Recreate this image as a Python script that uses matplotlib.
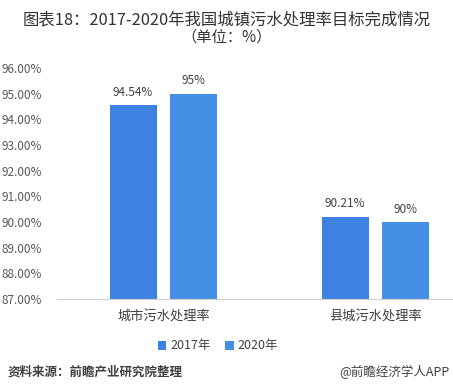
import matplotlib
matplotlib.use("Agg")
import matplotlib.pyplot as plt
import numpy as np

plt.rcParams['font.family'] = ['Noto Sans CJK SC', 'DejaVu Sans']

# data
categories = ["城市污水处理率", "县城污水处理率"]
series_names = ["2017年", "2020年"]
values_2017 = [94.54, 90.21]
values_2020 = [95.0, 90.0]
labels_2017 = ["94.54%", "90.21%"]
labels_2020 = ["95%", "90%"]
colors = ["#3d82e0", "#4590e6"]

fig = plt.figure(figsize=(4.53, 3.92), dpi=100)
ax = fig.add_axes([57 / 453, 1 - 299 / 392, (453 - 57) / 453, (299 - 68) / 392])

x = np.arange(len(categories))
w = 0.222
off = 0.143
b1 = ax.bar(x - off, values_2017, w, color=colors[0], label=series_names[0])
b2 = ax.bar(x + off, values_2020, w, color=colors[1], label=series_names[1])

ax.set_ylim(87, 96)
ax.set_xlim(-0.502, 1.366)
ax.set_yticks(np.arange(87, 96.01, 1))
ax.set_yticklabels([f"{v:.2f}%" for v in np.arange(87, 96.01, 1)])
ax.set_xticks(x)
ax.set_xticklabels(categories)

for bars, labs in [(b1, labels_2017), (b2, labels_2020)]:
    for r, t in zip(bars, labs):
        ax.text(r.get_x() + r.get_width() / 2, r.get_height() + 0.25, t,
                ha="center", va="bottom", fontsize=8.5, color="#404040")

for s in ["top", "right", "left"]:
    ax.spines[s].set_visible(False)
ax.spines["bottom"].set_color("#d0d0d0")
ax.tick_params(axis="y", length=0, labelsize=8.5, labelcolor="#595959", pad=11)
ax.tick_params(axis="x", length=0, labelsize=9.5, labelcolor="#404040", pad=8)

fig.text(0.5, 1 - 20 / 392, "图表18：2017-2020年我国城镇污水处理率目标完成情况",
         ha="center", va="center", fontsize=11.8, color="#333333")
fig.text(0.5, 1 - 37 / 392, "（单位：%）", ha="center", va="center",
         fontsize=11, color="#333333")

fig.legend(loc="center", bbox_to_anchor=(218 / 453, 1 - 346 / 392), ncol=2,
           frameon=False, fontsize=9, handlelength=0.7, handleheight=0.7,
           columnspacing=1.2, handletextpad=0.3, labelcolor="#404040")

fig.text(8 / 453, 1 - 372 / 392, "资料来源：前瞻产业研究院整理", ha="left", va="center",
         fontsize=9, color="#404040", style="italic", fontweight="bold")
fig.text(450 / 453, 1 - 372 / 392, "@前瞻经济学人APP", ha="right", va="center",
         fontsize=9, color="#404040")

fig.savefig("out.png", dpi=100)
